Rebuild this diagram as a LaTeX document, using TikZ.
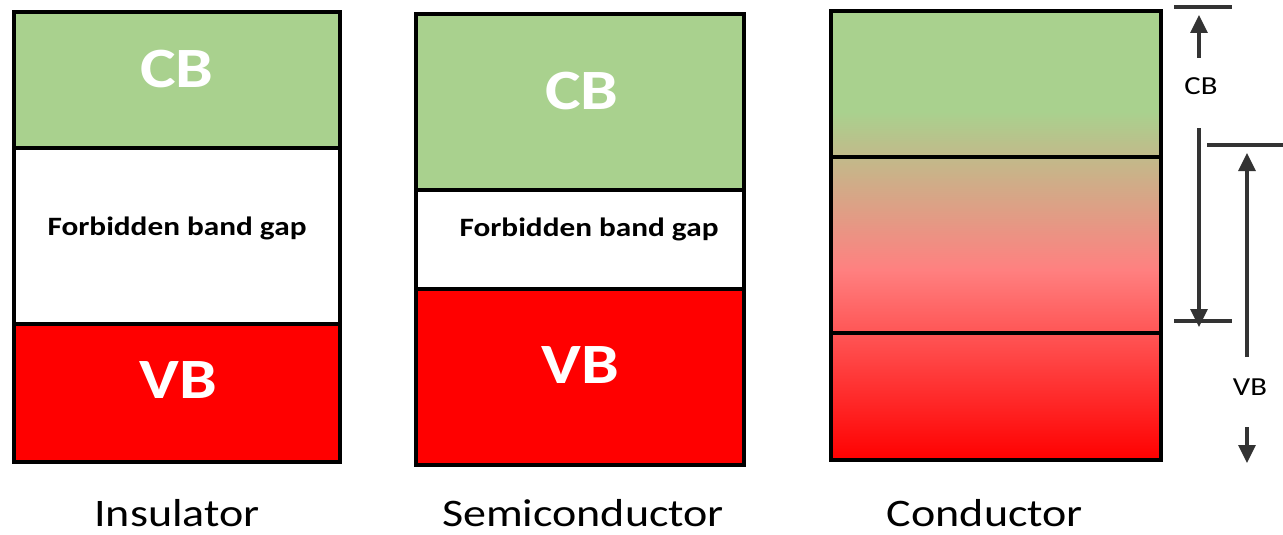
\documentclass[tikz,border=0pt]{standalone}
\usepackage{fontspec}
\setmainfont{Carlito}
\newfontfamily\wide[FakeStretch=1.18]{Carlito}
\usetikzlibrary{arrows.meta}
\definecolor{cbgreen}{HTML}{A9D18E}
\definecolor{vbred}{HTML}{FF0000}
\definecolor{midpink}{HTML}{FF8080}
\definecolor{dimline}{HTML}{333333}

\begin{document}
\begin{tikzpicture}[x=1pt,y=-1pt,
  band/.style={draw=black, line width=4pt},
  bandtxt/.style={text=white, font=\wide\bfseries\fontsize{57}{60}\selectfont, anchor=base, inner sep=0pt},
  gaptxt/.style={font=\wide\bfseries\fontsize{26.5}{30}\selectfont, anchor=base, inner sep=0pt},
  caption/.style={font=\wide\fontsize{39}{44}\selectfont, anchor=base, inner sep=0pt},
  marktxt/.style={font=\wide\fontsize{26}{30}\selectfont, anchor=base, inner sep=0pt},
  dim/.style={draw=dimline, line width=3.2pt},
  dimarrow/.style={dim, -{Triangle[width=17pt,length=18pt]}}]
\useasboundingbox (0,0) rectangle (1283,535);

% ---------- insulator ----------
\fill[cbgreen] (14,12.5) rectangle (340,148);
\fill[vbred] (14,324) rectangle (340,462);
\draw[band] (14,12.5) rectangle (340,148);
\draw[band] (14,148) rectangle (340,324);
\draw[band] (14,324) rectangle (340,462);
\node[bandtxt] (icb) at (177,88) {CB};
\node[gaptxt] (igap) at (177,235) {Forbidden band gap};
\node[bandtxt] (ivb) at (178,398) {VB};
\node[caption] (ilab) at (177,526) {Insulator};

% ---------- semiconductor ----------
\fill[cbgreen] (416,14.5) rectangle (744,190);
\fill[vbred] (416,289) rectangle (744,465);
\draw[band] (416,14.5) rectangle (744,190);
\draw[band] (416,190) rectangle (744,289);
\draw[band] (416,289) rectangle (744,465);
\node[bandtxt] (scb) at (582,110) {CB};
\node[gaptxt] (sgap) at (589,236) {Forbidden band gap};
\node[bandtxt] (svb) at (580,383) {VB};
\node[caption] (slab) at (583,526) {Semiconductor};

% ---------- conductor (overlapping bands) ----------
\fill[cbgreen] (831,11) rectangle (1161,112);
\shade[top color=cbgreen, bottom color=midpink] (831,111.5) rectangle (1161,270);
\shade[top color=midpink, bottom color=vbred] (831,269.5) rectangle (1161,460);
\draw[band] (831,11) rectangle (1161,157);
\draw[band] (831,157) rectangle (1161,333);
\draw[band] (831,333) rectangle (1161,460);
\node[caption] (clab) at (985,526) {Conductor};

% ---------- band extent markers ----------
\coordinate (cbtopL) at (1174,7);
\coordinate (cbtopR) at (1232,7);
\coordinate (cbupA) at (1199,58);
\coordinate (cbupB) at (1199,15);
\coordinate (cbdnA) at (1199,128);
\coordinate (cbdnB) at (1199,327);
\coordinate (cbbotL) at (1174,321);
\coordinate (cbbotR) at (1232,321);
\coordinate (vbtopL) at (1207,145);
\coordinate (vbtopR) at (1283,145);
\coordinate (vbupA) at (1247,357);
\coordinate (vbupB) at (1247,153);
\coordinate (vbdnA) at (1247,427);
\coordinate (vbdnB) at (1247,463);

\draw[dim] (cbtopL) -- (cbtopR);
\draw[dimarrow] (cbupA) -- (cbupB);
\node[marktxt] (cbmark) at (1201,95) {CB};
\draw[dimarrow] (cbdnA) -- (cbdnB);
\draw[dim] (cbbotL) -- (cbbotR);

\draw[dim] (vbtopL) -- (vbtopR);
\draw[dimarrow] (vbupA) -- (vbupB);
\node[marktxt] (vbmark) at (1250,395) {VB};
\draw[dimarrow] (vbdnA) -- (vbdnB);
\end{tikzpicture}
\end{document}
